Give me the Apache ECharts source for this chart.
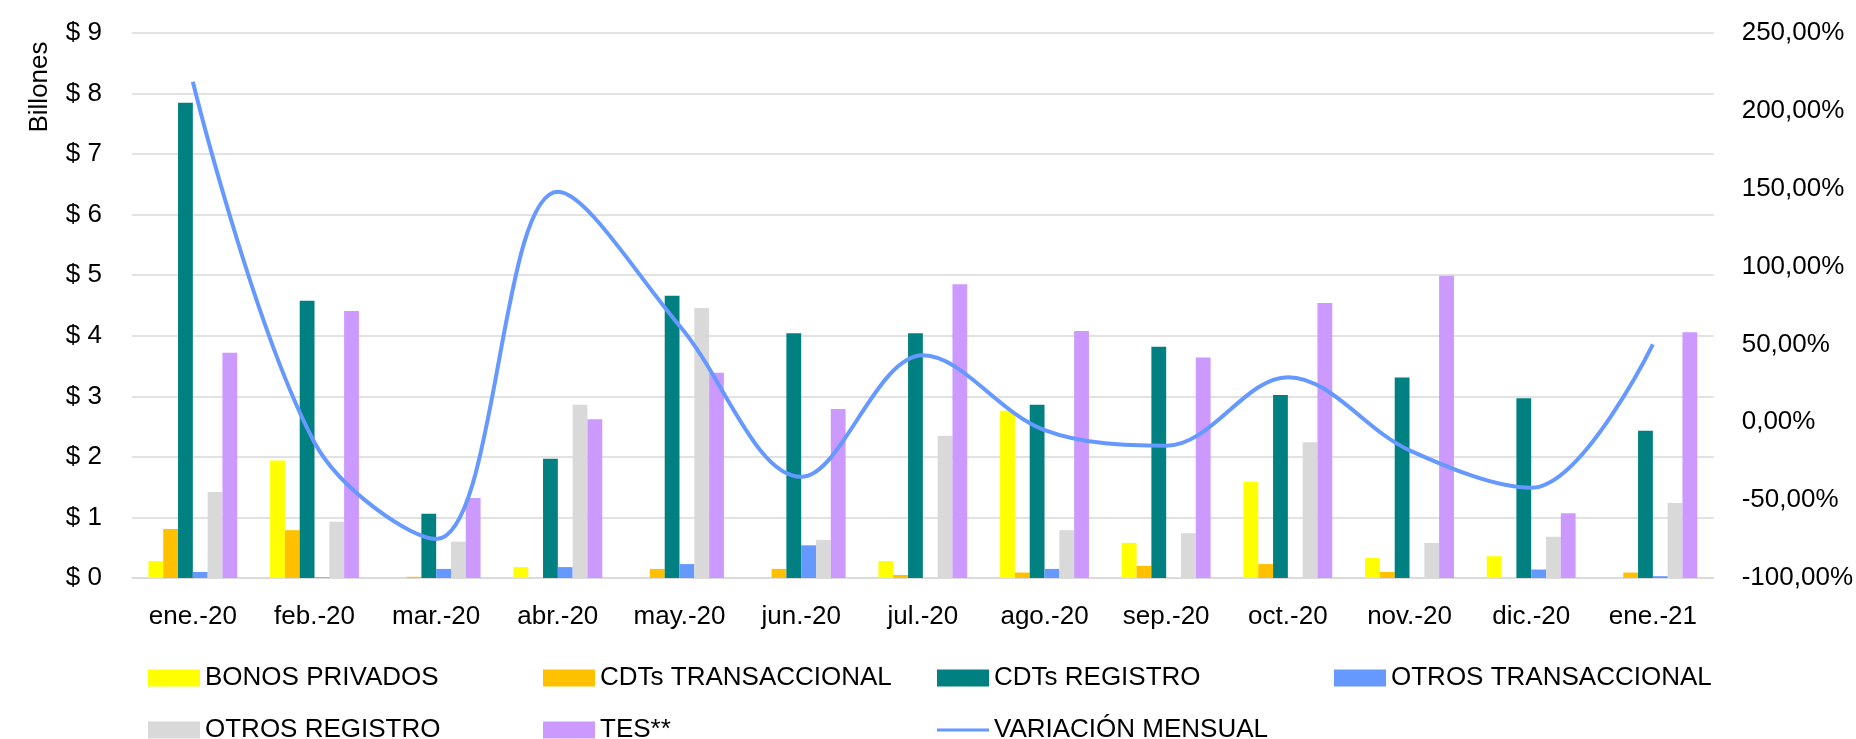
<!doctype html>
<html lang="es">
<head>
    <meta charset="UTF-8">
    <title>Montos por tipo de título</title>
    <script src="https://cdn.jsdelivr.net/npm/echarts@6/dist/echarts.min.js"></script>
    <style>
        html, body { margin: 0; padding: 0; background: #fff; }
        #main_echart { width: 1856px; height: 739px; }
    </style>
</head>
<body>

<div id="main_echart"></div>

<script type="text/javascript">
/* 1. datos */
let categories = ['ene.-20', 'feb.-20', 'mar.-20', 'abr.-20', 'may.-20', 'jun.-20', 'jul.-20',
    'ago.-20', 'sep.-20', 'oct.-20', 'nov.-20', 'dic.-20', 'ene.-21'];

let bonosPrivados      = [0.28, 1.94, 0, 0.18, 0, 0, 0.28, 2.76, 0.58, 1.59, 0.33, 0.36, 0];
let cdtsTransaccional  = [0.81, 0.79, 0.02, 0, 0.15, 0.15, 0.05, 0.09, 0.20, 0.23, 0.10, 0, 0.09];
let cdtsRegistro       = [7.85, 4.58, 1.06, 1.97, 4.66, 4.04, 4.04, 2.86, 3.82, 3.02, 3.31, 2.97, 2.43];
let otrosTransaccional = [0.10, 0.01, 0.15, 0.18, 0.23, 0.54, 0, 0.15, 0, 0, 0, 0.14, 0.03];
let otrosRegistro      = [1.42, 0.93, 0.60, 2.86, 4.46, 0.63, 2.35, 0.79, 0.74, 2.24, 0.58, 0.68, 1.24];
let tes                = [3.72, 4.41, 1.32, 2.62, 3.39, 2.79, 4.85, 4.08, 3.64, 4.54, 4.99, 1.07, 4.06];
let variacionMensual   = [218.7, -13, -75, 148, 62, -35, 43, -5, -15, 29, -18, -42, 50];

/* 2. estilos */
let font = 'Liberation Sans, Arial, sans-serif';
let fontSize = 26;
let gridColor = '#d9d9d9';

let barSeries = [
    {name: 'BONOS PRIVADOS', data: bonosPrivados, color: '#ffff00'},
    {name: 'CDTs TRANSACCIONAL', data: cdtsTransaccional, color: '#ffc000'},
    {name: 'CDTs REGISTRO', data: cdtsRegistro, color: '#008080'},
    {name: 'OTROS TRANSACCIONAL', data: otrosTransaccional, color: '#6699ff'},
    {name: 'OTROS REGISTRO', data: otrosRegistro, color: '#d9d9d9'},
    {name: 'TES**', data: tes, color: '#cc99ff'}
];

/* leyenda en dos filas, columnas fijas */
let legendPos = [
    {name: 'BONOS PRIVADOS', left: 148, top: 665},
    {name: 'CDTs TRANSACCIONAL', left: 543, top: 665},
    {name: 'CDTs REGISTRO', left: 937, top: 665},
    {name: 'OTROS TRANSACCIONAL', left: 1334, top: 665},
    {name: 'OTROS REGISTRO', left: 148, top: 717},
    {name: 'TES**', left: 543, top: 717},
    {name: 'VARIACIÓN MENSUAL', left: 937, top: 717}
];

let legends = legendPos.map(function (p) {
    let isLine = p.name === 'VARIACIÓN MENSUAL';
    return {
        data: [p.name],
        left: p.left,
        top: p.top,
        itemWidth: 52,
        itemHeight: isLine ? 3 : 17,
        itemGap: 0,
        icon: 'rect',
        selectedMode: false,
        textStyle: {fontFamily: font, fontSize: fontSize, color: '#000', padding: [0, 0, 0, 0]},
        padding: 0
    };
});

let series = barSeries.map(function (s) {
    return {
        name: s.name,
        type: 'bar',
        yAxisIndex: 0,
        data: s.data,
        barGap: '0%',
        barCategoryGap: '27%',
        itemStyle: {color: s.color},
        emphasis: {disabled: true}
    };
});

series.push({
    name: 'VARIACIÓN MENSUAL',
    type: 'line',
    yAxisIndex: 1,
    data: variacionMensual,
    smooth: 0.35,
    symbol: 'none',
    lineStyle: {color: '#6699ff', width: 4},
    itemStyle: {color: '#6699ff'},
    z: 5
});

/* 3. grafico */
let main_echart = echarts.init(document.getElementById('main_echart'));

let option = {
    animation: false,
    backgroundColor: '#fff',
    textStyle: {fontFamily: font},
    grid: {left: 132, right: 142, top: 33, bottom: 161},
    legend: legends,
    xAxis: {
        type: 'category',
        data: categories,
        axisLine: {lineStyle: {color: gridColor, width: 1.5}},
        axisTick: {length: 10, lineStyle: {color: gridColor, width: 1.5}},
        axisLabel: {margin: 26, fontSize: fontSize, fontFamily: font, color: '#000'}
    },
    yAxis: [
        {
            type: 'value',
            min: 0,
            max: 9,
            interval: 1,
            axisLine: {show: false},
            axisTick: {show: false},
            splitLine: {lineStyle: {color: gridColor, width: 1.5}},
            axisLabel: {
                margin: 30, fontSize: fontSize, fontFamily: font, color: '#000',
                formatter: function (v) { return '$ ' + v; }
            }
        },
        {
            type: 'value',
            min: -100,
            max: 250,
            interval: 50,
            position: 'right',
            axisLine: {show: false},
            axisTick: {show: false},
            splitLine: {show: false},
            axisLabel: {
                margin: 28, fontSize: fontSize, fontFamily: font, color: '#000',
                formatter: function (v) { return v.toFixed(2).replace('.', ',') + '%'; }
            }
        }
    ],
    graphic: [{
        type: 'text',
        x: 40,
        y: 87,
        rotation: Math.PI / 2,
        style: {
            text: 'Billones',
            fontFamily: font,
            fontSize: fontSize,
            fill: '#000',
            align: 'center',
            verticalAlign: 'middle'
        }
    }],
    series: series
};
main_echart.setOption(option);

window.addEventListener('resize', main_echart.resize);
</script>
</body>
</html>
